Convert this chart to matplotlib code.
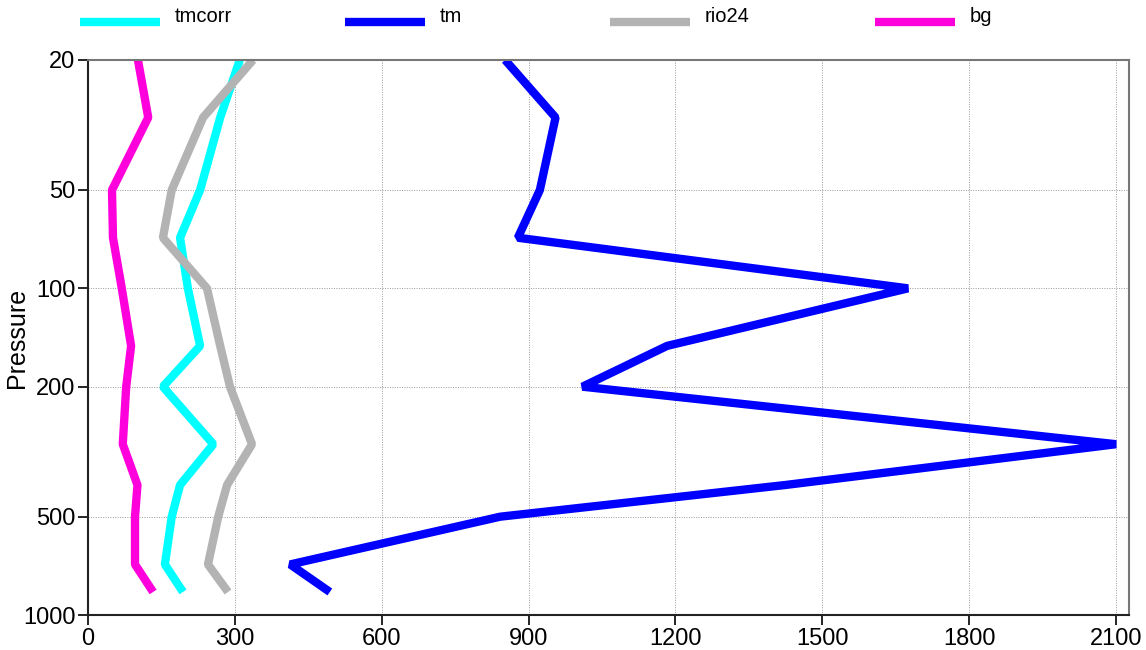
import numpy as np
import matplotlib.pyplot as plt
from matplotlib.lines import Line2D

plt.rcParams['font.family'] = ['Liberation Sans', 'DejaVu Sans']

# pressure levels (hPa)
levels = [20, 30, 50, 70, 100, 150, 200, 300, 400, 500, 700, 850]

tmcorr = [310, 270, 229, 188, 204, 229, 153, 256, 188, 171, 157, 194]
tm = [852, 955, 923, 878, 1675, 1183, 1010, 2100, 1424, 842, 413, 494]
rio24 = [337, 235, 171, 153, 243, 270, 290, 335, 284, 266, 245, 286]
bg = [102, 123, 49, 51, 69, 88, 78, 71, 101, 96, 96, 133]

names = ['tmcorr', 'tm', 'rio24', 'bg']
series = [tmcorr, tm, rio24, bg]
colors = ['#00ffff', '#0000ff', '#b3b3b3', '#ff00dd']

yticks = [20, 50, 100, 200, 500, 1000]
xticks = np.arange(0, 2101, 300)

fig = plt.figure(figsize=(11.46, 6.5), dpi=100)
ax = fig.add_axes([0.0768, 0.0538, 0.9082, 0.8539])

for vals, c in zip(series, colors):
    ax.plot(vals, levels, color=c, lw=6, solid_joinstyle='bevel', solid_capstyle='butt')

ax.set_yscale('log')
ax.set_ylim(1000, 20)
ax.set_xlim(0, 2126)
ax.set_yticks(yticks)
ax.set_yticklabels([str(v) for v in yticks])
ax.yaxis.set_minor_locator(plt.NullLocator())
ax.set_xticks(xticks)
ax.tick_params(axis='both', labelsize=17, direction='out', length=7, width=1.2, pad=2)
ax.set_ylabel('Pressure', fontsize=18)
ax.yaxis.set_label_coords(-0.057, 0.5)
ax.grid(True, color='#999999', linestyle=(0, (1, 1.5)), linewidth=0.7)

for s in ['left', 'bottom']:
    ax.spines[s].set_color('#222222')
    ax.spines[s].set_linewidth(1.5)
for s in ['top', 'right']:
    ax.spines[s].set_color('#777777')
    ax.spines[s].set_linewidth(1.5)

# legend row across the top
for i, (n, c) in enumerate(zip(names, colors)):
    x0 = (80 + i * 265) / 1146
    fig.add_artist(Line2D([x0, x0 + 80 / 1146], [1 - 22 / 650] * 2, color=c, lw=6,
                          transform=fig.transFigure, solid_capstyle='butt'))
    fig.text(x0 + 95 / 1146, 1 - 16 / 650, n, fontsize=14.5, va='center', ha='left')

fig.savefig('out.png', dpi=100)
